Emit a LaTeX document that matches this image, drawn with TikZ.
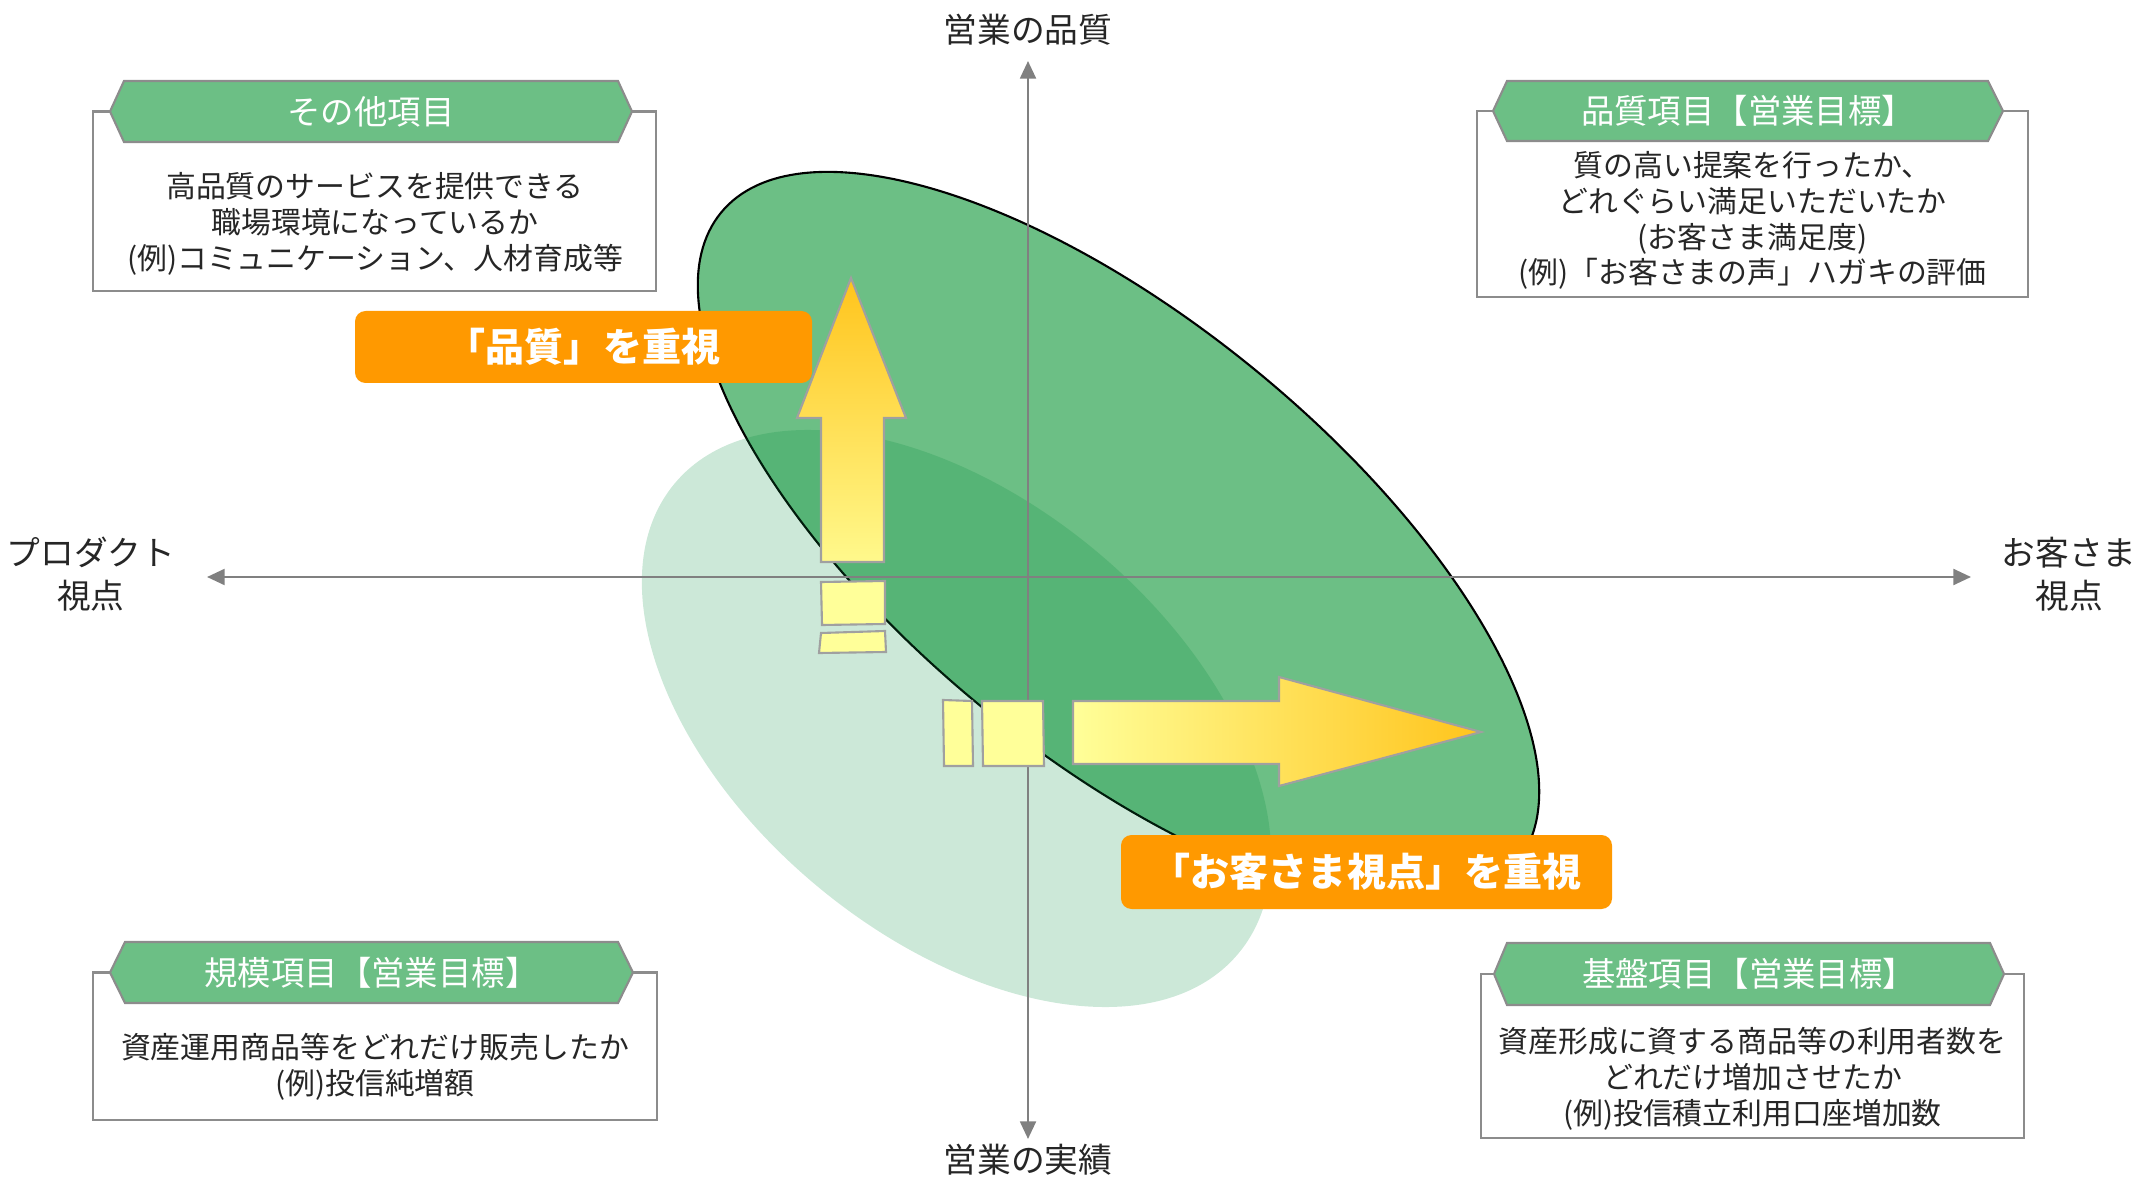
\documentclass[tikz,border=0pt]{standalone}
\usepackage{fontspec}
\setmainfont{Noto Sans CJK JP}
\usetikzlibrary{arrows.meta}
\definecolor{leaf}{HTML}{6CBF85}
\definecolor{moss}{RGB}{0,140,60}
\definecolor{amber}{HTML}{FF9900}
\definecolor{pale}{HTML}{FFFF99}
\definecolor{lemon}{HTML}{FFF98C}
\definecolor{gold}{HTML}{FFC41C}
\definecolor{rim}{HTML}{A0A0A0}
\definecolor{edge}{HTML}{8C8C8C}
\definecolor{ink}{HTML}{262626}
\begin{document}
\begin{tikzpicture}[
  axis/.style={draw=gray, line width=0.7pt, {Triangle[length=5pt,width=4.5pt]}-{Triangle[length=5pt,width=4.5pt]}},
  axislabel/.style={text=ink, align=center, font=\fontsize{9.6}{12.2}\selectfont},
  frame/.style={draw=edge, line width=0.6pt, fill=white},
  banner/.style={draw=edge, line width=0.6pt, fill=leaf},
  title/.style={text=white, font=\fontsize{9.5}{11}\selectfont},
  body/.style={text=ink, align=center, font=\fontsize{8.5}{10.2}\selectfont},
  tag/.style={fill=amber, rounded corners=3pt, text=white, inner sep=0pt, font=\bfseries\fontsize{11.1}{13}\selectfont},
  block/.style={draw=rim, line width=0.6pt, fill=pale},
]
\useasboundingbox (0,0) rectangle (21.39,11.77);
\fill[leaf, draw=black, line width=0.6pt] (11.185,6.385) ellipse [x radius=5.14, y radius=2.17, rotate=-39.35];
\fill[moss, opacity=0.2] (9.565,4.585) ellipse [x radius=3.67, y radius=2.18, rotate=-39.8];
%%%%
\coordinate (top) at (10.28,11.16);
\coordinate (bottom) at (10.28,0.38);
\coordinate (west) at (2.07,6.00);
\coordinate (east) at (19.71,6.00);
\draw[axis] (bottom) -- (top);
\draw[axis] (west) -- (east);
\node[axislabel] (quality) at (10.28,11.47) {営業の品質};
\node[axislabel] (results) at (10.28,0.17) {営業の実績};
\node[axislabel] (product) at (0.91,6.03) {プロダクト\\視点};
\node[axislabel] (customer) at (20.69,6.03) {お客さま\\視点};
%%%%
\draw[frame] (0.93,8.86) rectangle (6.56,10.655);
\draw[banner] (1.10,10.655) -- (1.24,10.96) -- (6.18,10.96) -- (6.32,10.655) -- (6.18,10.35) -- (1.24,10.35) -- cycle;
\node[title] (other) at (3.71,10.655) {その他項目};
\node[body] (otherbody) at (3.75,9.53) {高品質のサービスを提供できる\\職場環境になっているか\\(例)コミュニケーション、人材育成等};
\draw[frame] (14.77,8.80) rectangle (20.28,10.66);
\draw[banner] (14.93,10.66) -- (15.07,10.96) -- (19.88,10.96) -- (20.03,10.66) -- (19.88,10.36) -- (15.07,10.36) -- cycle;
\node[title] (qualityitem) at (17.48,10.66) {品質項目【営業目標】};
\node[body] (qualitybody) at (17.525,9.565) {質の高い提案を行ったか、\\どれぐらい満足いただいたか\\(お客さま満足度)\\(例)「お客さまの声」ハガキの評価};
\draw[frame] (0.93,0.57) rectangle (6.57,2.045);
\draw[banner] (1.10,2.045) -- (1.25,2.35) -- (6.18,2.35) -- (6.33,2.045) -- (6.18,1.74) -- (1.25,1.74) -- cycle;
\node[title] (scale) at (3.715,2.045) {規模項目【営業目標】};
\node[body] (scalebody) at (3.75,1.105) {資産運用商品等をどれだけ販売したか\\(例)投信純増額};
\draw[frame] (14.81,0.39) rectangle (20.24,2.03);
\draw[banner] (14.94,2.03) -- (15.07,2.34) -- (19.90,2.34) -- (20.04,2.03) -- (19.90,1.72) -- (15.07,1.72) -- cycle;
\node[title] (base) at (17.49,2.03) {基盤項目【営業目標】};
\node[body] (basebody) at (17.525,0.98) {資産形成に資する商品等の利用者数を\\どれだけ増加させたか\\(例)投信積立利用口座増加数};
%%%%
\shadedraw[draw=rim, line width=0.6pt, bottom color=lemon, top color=gold] (8.21,6.15) -- (8.21,7.59) -- (7.97,7.59) -- (8.51,8.99) -- (9.06,7.59) -- (8.84,7.59) -- (8.84,6.15) -- cycle;
\draw[block] (8.21,5.95) -- (8.85,5.96) -- (8.85,5.53) -- (8.22,5.52) -- cycle;
\draw[block] (8.21,5.44) -- (8.85,5.46) -- (8.86,5.25) -- (8.19,5.24) -- cycle;
\shadedraw[draw=rim, line width=0.6pt, left color=pale, right color=gold] (10.73,4.76) -- (12.79,4.76) -- (12.79,5.00) -- (14.81,4.45) -- (12.79,3.91) -- (12.79,4.13) -- (10.73,4.13) -- cycle;
\draw[block] (9.43,4.77) -- (9.72,4.76) -- (9.73,4.11) -- (9.44,4.11) -- cycle;
\draw[block] (9.82,4.76) -- (10.43,4.76) -- (10.44,4.11) -- (9.83,4.11) -- cycle;
%%%%
\node[tag, minimum width=4.57cm, minimum height=0.72cm] (qualityfocus) at (5.835,8.30) {「品質」を重視};
\node[tag, minimum width=4.91cm, minimum height=0.74cm] (customerfocus) at (13.665,3.05) {「お客さま視点」を重視};
\end{tikzpicture}
\end{document}
